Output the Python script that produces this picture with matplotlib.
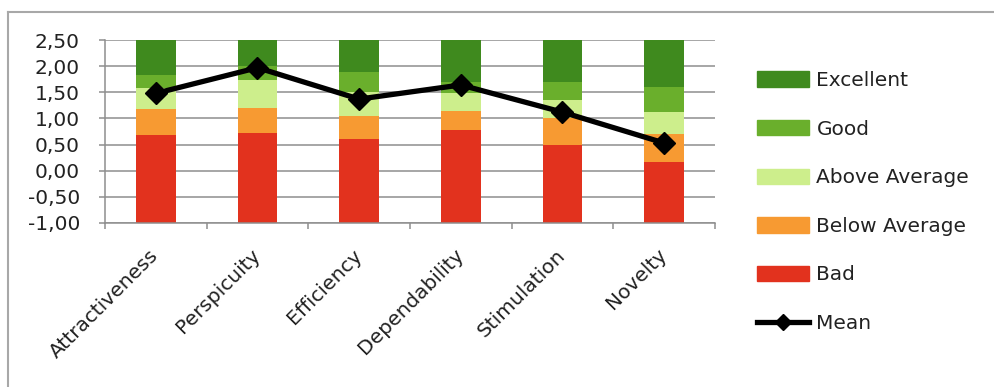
import matplotlib.pyplot as plt
from matplotlib.lines import Line2D
from matplotlib.patches import Patch
from matplotlib.ticker import FuncFormatter, FixedLocator

# UEQ scales and benchmark borders (upper edge of each band)
scales = ['Attractiveness', 'Perspicuity', 'Efficiency', 'Dependability', 'Stimulation', 'Novelty']
bad_top = [0.69, 0.72, 0.60, 0.78, 0.50, 0.16]
below_top = [1.18, 1.20, 1.05, 1.14, 1.00, 0.70]
above_top = [1.58, 1.73, 1.50, 1.48, 1.35, 1.12]
good_top = [1.84, 2.00, 1.88, 1.70, 1.70, 1.60]
excellent_top = [2.50, 2.50, 2.50, 2.50, 2.50, 2.50]
mean = [1.48, 1.97, 1.37, 1.64, 1.12, 0.53]

y_min = -1.0
bands = ['Bad', 'Below Average', 'Above Average', 'Good', 'Excellent']
band_tops = [bad_top, below_top, above_top, good_top, excellent_top]
colors = ['#E2321E', '#F79A32', '#CDEE8C', '#6AAF2C', '#3F8A1E']

plt.rcParams['font.family'] = ['DejaVu Sans']
plt.rcParams['font.size'] = 14.5
text_col = '#222222'
grid_col = '#8E8E8E'

fig = plt.figure(figsize=(9.95, 3.87), dpi=100)
W, H = 995, 387
ax = fig.add_axes([105 / W, 1 - 223 / H, (715 - 105) / W, (223 - 40) / H])

x = list(range(len(scales)))
bottom = [y_min] * len(scales)
for name, tops, col in zip(bands, band_tops, colors):
    heights = [t - b for t, b in zip(tops, bottom)]
    ax.bar(x, heights, bottom=bottom, width=0.39, color=col, label=name, zorder=2)
    bottom = tops

ax.plot(x, mean, color='black', lw=3.8, marker='D', markersize=11, zorder=3, label='Mean')

ax.set_xlim(-0.5, len(scales) - 0.5)
ax.set_ylim(-1.0, 2.5)
ax.set_yticks([-1.0 + 0.5 * i for i in range(8)])
ax.yaxis.set_major_formatter(FuncFormatter(lambda v, p: f'{v:.2f}'.replace('.', ',')))
ax.grid(axis='y', color=grid_col, lw=1.1, zorder=0)
ax.set_axisbelow(True)

ax.set_xticks(x)
ax.set_xticklabels(scales, rotation=45, ha='right', va='center', rotation_mode='anchor')
ax.xaxis.set_minor_locator(FixedLocator([i - 0.5 for i in range(len(scales) + 1)]))
ax.tick_params(axis='x', which='major', length=0, pad=21, colors=text_col)
ax.tick_params(axis='x', which='minor', length=4, width=1.1, color=grid_col)
ax.tick_params(axis='y', length=4, width=1.1, color=grid_col, pad=14, labelcolor=text_col)

for s in ['top', 'right']:
    ax.spines[s].set_visible(False)
for s in ['left', 'bottom']:
    ax.spines[s].set_color(grid_col)
    ax.spines[s].set_linewidth(1.1)

# legend: Excellent at top down to Bad, then the mean line
handles = [Patch(color=c) for c in colors[::-1]]
handles.append(Line2D([], [], color='black', lw=3.8, marker='D', markersize=8))
fig.legend(handles, bands[::-1] + ['Mean'], loc='upper left',
           bbox_to_anchor=(757 / W, 1 - 71 / H), frameon=False,
           handlelength=2.6, handleheight=0.8, handletextpad=0.35,
           labelspacing=1.47, borderpad=0, borderaxespad=0,
           labelcolor=text_col)

# chart border
fig.add_artist(Line2D([8 / W, 8 / W], [0, 1 - 12 / H], color='#A8A8A8', lw=1.5))
fig.add_artist(Line2D([8 / W, 1], [1 - 12 / H, 1 - 12 / H], color='#A8A8A8', lw=1.5))

fig.savefig('out.png', dpi=100)
